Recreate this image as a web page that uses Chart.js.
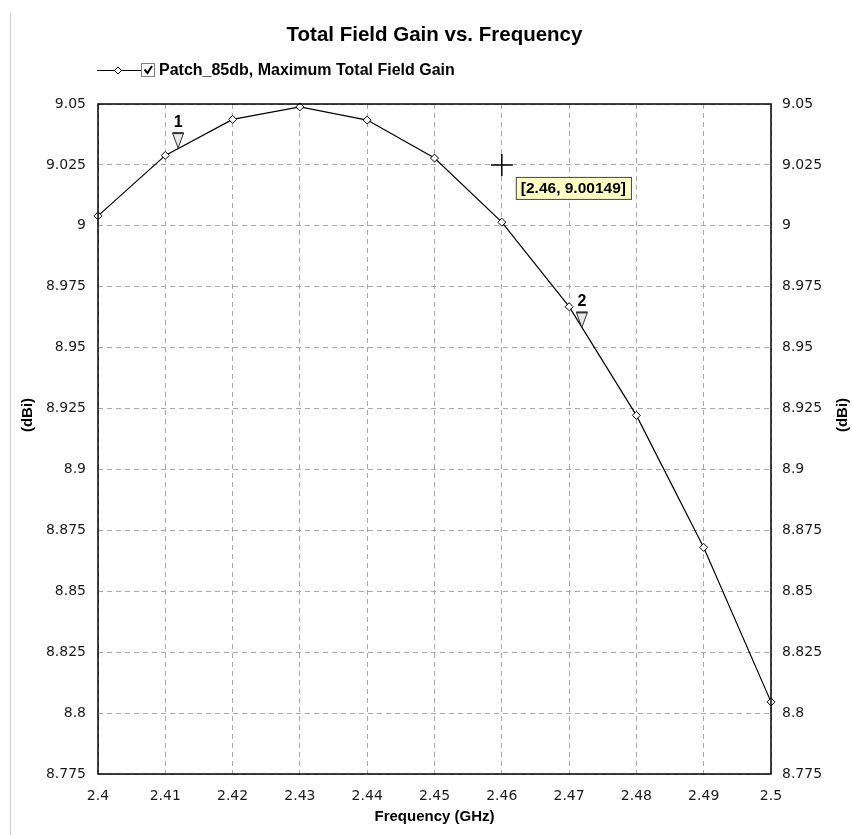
<!DOCTYPE html>
<html lang="en">
<head>
    <meta charset="UTF-8">
    <title>Total Field Gain vs. Frequency</title>
    <style>
        body { margin: 0; background: #fff; }
        canvas { display: block; }
    </style>
</head>
<body>
    <canvas id="gainChart" width="852" height="835"></canvas>
    <script src="https://cdn.jsdelivr.net/npm/chart.js"></script>
    <script>
        // Sweep data (GHz, dBi)
        const freq = [2.40, 2.41, 2.42, 2.43, 2.44, 2.45, 2.46, 2.47, 2.48, 2.49, 2.50];
        const gain = [9.0041, 9.0289, 9.0437, 9.0488, 9.0434, 9.0278, 9.00149, 8.9668, 8.9222, 8.8680, 8.8046];

        // Markers placed on the trace
        const markerNames = ['1', '2'];
        const markerFreq = [2.4119, 2.4719];
        const markerGain = [9.0319, 8.9583];

        // Cursor position and its readout
        const cursorFreq = 2.46;
        const cursorGain = 9.025;
        const cursorText = '[2.46, 9.00149]';

        const seriesName = 'Patch_85db, Maximum Total Field Gain';
        const chartTitle = 'Total Field Gain vs. Frequency';
        const xTitle = 'Frequency (GHz)';
        const yTitle = '(dBi)';

        const BOLD = '"Liberation Sans", Arial, sans-serif';
        const fmt = v => String(+Number(v).toFixed(3));

        // Title, legend, markers, cursor and plot frame
        const extras = {
            id: 'extras',
            afterDraw(chart) {
                const ctx = chart.ctx;
                const area = chart.chartArea;
                const xs = chart.scales.x;
                const ys = chart.scales.y;
                ctx.save();

                // window edge on the left
                ctx.strokeStyle = '#cfcfcf';
                ctx.lineWidth = 1;
                ctx.beginPath();
                ctx.moveTo(10.5, 13);
                ctx.lineTo(10.5, 835);
                ctx.stroke();

                // plot frame
                ctx.strokeStyle = '#000';
                ctx.lineWidth = 1.5;
                ctx.strokeRect(area.left, area.top, area.right - area.left, area.bottom - area.top);

                // title
                ctx.fillStyle = '#000';
                ctx.textAlign = 'center';
                ctx.textBaseline = 'middle';
                ctx.font = 'bold 20.5px ' + BOLD;
                ctx.fillText(chartTitle, (area.left + area.right) / 2, 35);

                // legend: line sample with diamond, checkbox, label
                const ly = 70.5;
                ctx.lineWidth = 1;
                ctx.beginPath();
                ctx.moveTo(97, ly);
                ctx.lineTo(141, ly);
                ctx.stroke();
                ctx.fillStyle = '#fff';
                ctx.beginPath();
                ctx.moveTo(118, ly - 3.5);
                ctx.lineTo(121.5, ly);
                ctx.lineTo(118, ly + 3.5);
                ctx.lineTo(114.5, ly);
                ctx.closePath();
                ctx.fill();
                ctx.stroke();
                ctx.fillStyle = '#fff';
                ctx.fillRect(141.5, 63.5, 13, 13);
                ctx.strokeStyle = '#808080';
                ctx.strokeRect(141.5, 63.5, 13, 13);
                ctx.strokeStyle = '#000';
                ctx.lineWidth = 2;
                ctx.beginPath();
                ctx.moveTo(144.5, 69.5);
                ctx.lineTo(147.5, 73);
                ctx.lineTo(152, 66);
                ctx.stroke();
                ctx.fillStyle = '#000';
                ctx.textAlign = 'left';
                ctx.font = 'bold 16px ' + BOLD;
                ctx.fillText(seriesName, 159, ly);

                // y axis titles, both reading bottom to top
                ctx.font = 'bold 15px ' + BOLD;
                ctx.textAlign = 'center';
                [28, 843].forEach(tx => {
                    ctx.save();
                    ctx.translate(tx, 415);
                    ctx.rotate(-Math.PI / 2);
                    ctx.fillText(yTitle, 0, 0);
                    ctx.restore();
                });

                // markers: down triangle with its number above
                markerNames.forEach((name, i) => {
                    const px = xs.getPixelForValue(markerFreq[i]);
                    const py = ys.getPixelForValue(markerGain[i]);
                    ctx.fillStyle = '#e8e8e8';
                    ctx.strokeStyle = '#333';
                    ctx.lineWidth = 1;
                    ctx.beginPath();
                    ctx.moveTo(px - 5.5, py - 15);
                    ctx.lineTo(px + 5.5, py - 15);
                    ctx.lineTo(px, py);
                    ctx.closePath();
                    ctx.fill();
                    ctx.stroke();
                    ctx.lineWidth = 2;
                    ctx.beginPath();
                    ctx.moveTo(px - 5.5, py - 15);
                    ctx.lineTo(px + 5.5, py - 15);
                    ctx.stroke();
                    ctx.fillStyle = '#000';
                    ctx.font = 'bold 16px ' + BOLD;
                    ctx.textAlign = 'center';
                    ctx.fillText(name, px, py - 26);
                });

                // cursor cross
                const cx = xs.getPixelForValue(cursorFreq);
                const cy = ys.getPixelForValue(cursorGain);
                ctx.strokeStyle = '#000';
                ctx.lineWidth = 1.5;
                ctx.beginPath();
                ctx.moveTo(cx - 11, cy);
                ctx.lineTo(cx + 11, cy);
                ctx.moveTo(cx, cy - 11);
                ctx.lineTo(cx, cy + 11);
                ctx.stroke();

                // cursor readout box
                ctx.font = 'bold 15.5px ' + BOLD;
                const tw = ctx.measureText(cursorText).width;
                const bx = cx + 14, by = cy + 12, bw = tw + 10, bh = 22;
                ctx.fillStyle = '#ffffc4';
                ctx.fillRect(bx, by, bw, bh);
                ctx.strokeStyle = '#444';
                ctx.lineWidth = 1;
                ctx.strokeRect(bx + 0.5, by + 0.5, bw, bh);
                ctx.fillStyle = '#000';
                ctx.textAlign = 'left';
                ctx.fillText(cursorText, bx + 5, by + bh / 2 + 1);

                ctx.restore();
            }
        };

        const gridOpts = { color: '#a8a8a8', lineWidth: 1, drawTicks: false };
        const tickFont = { family: '"DejaVu Sans", Arial, sans-serif', size: 14 };

        new Chart(document.getElementById('gainChart'), {
            type: 'line',
            data: {
                datasets: [{
                    label: seriesName,
                    data: freq.map((f, i) => ({ x: f, y: gain[i] })),
                    borderColor: '#000',
                    borderWidth: 1.2,
                    tension: 0,
                    pointStyle: 'rectRot',
                    pointRadius: 4,
                    pointBackgroundColor: '#fff',
                    pointBorderColor: '#000',
                    pointBorderWidth: 1,
                    clip: false
                }]
            },
            options: {
                responsive: false,
                animation: false,
                layout: { padding: { top: 104, left: 10, right: 0, bottom: 0 } },
                plugins: {
                    legend: { display: false },
                    tooltip: { enabled: false }
                },
                scales: {
                    x: {
                        type: 'linear',
                        min: 2.4,
                        max: 2.5,
                        ticks: { stepSize: 0.01, color: '#1a1a1a', font: tickFont, padding: 14, maxRotation: 0, callback: fmt },
                        grid: gridOpts,
                        border: { display: false, dash: [5, 4] },
                        title: { display: true, text: xTitle, color: '#000', font: { family: BOLD, size: 15, weight: 'bold' }, padding: { top: 0, bottom: 9 } },
                        afterFit: s => { s.height = 61; }
                    },
                    y: {
                        position: 'left',
                        min: 8.775,
                        max: 9.05,
                        ticks: { stepSize: 0.025, color: '#1a1a1a', font: tickFont, padding: 12, callback: fmt },
                        grid: gridOpts,
                        border: { display: false, dash: [5, 4] },
                        afterFit: s => { s.width = 88; }
                    },
                    y2: {
                        position: 'right',
                        min: 8.775,
                        max: 9.05,
                        ticks: { stepSize: 0.025, color: '#1a1a1a', font: tickFont, padding: 11, callback: fmt },
                        grid: { display: false, drawTicks: false },
                        border: { display: false },
                        afterFit: s => { s.width = 81; }
                    }
                }
            },
            plugins: [extras]
        });
    </script>
</body>
</html>
